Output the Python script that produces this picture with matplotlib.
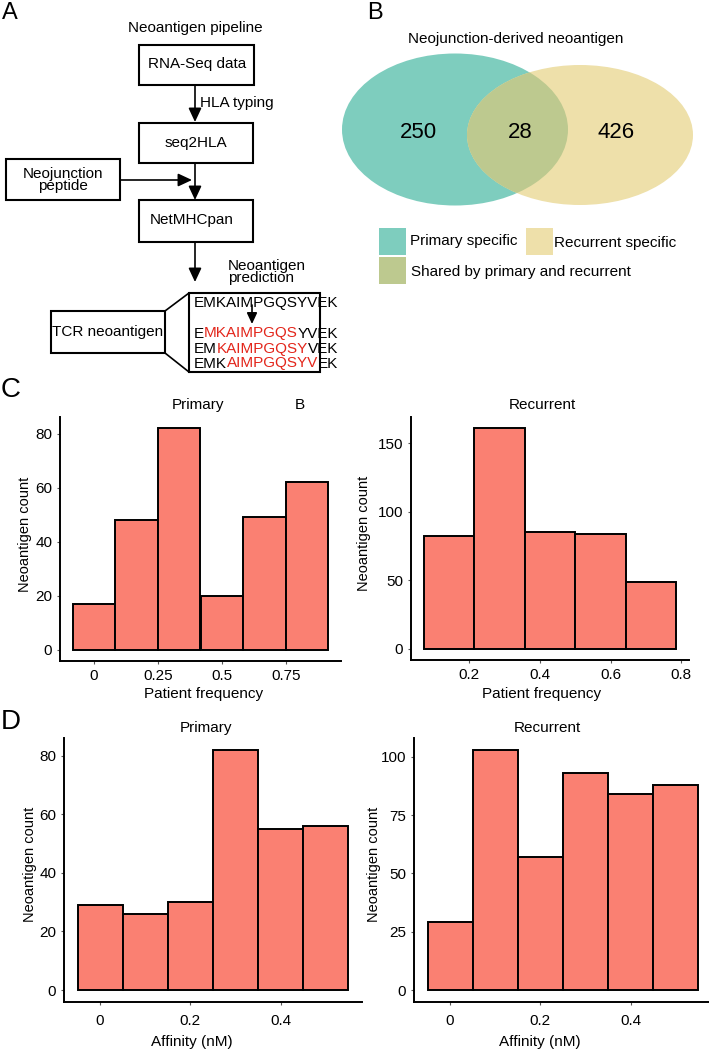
import matplotlib
matplotlib.use('Agg')
import matplotlib.pyplot as plt
from matplotlib.patches import Rectangle, Ellipse
import numpy as np

plt.rcParams['font.family'] = ['Liberation Sans', 'DejaVu Sans']

# panel C: patient frequency histograms (bin centres, counts)
c_primary_bins = [0, 1/6, 2/6, 3/6, 4/6, 5/6]
c_primary_counts = [17, 48, 82, 20, 49, 62]
c_recurrent_bins = [1/7, 2/7, 3/7, 4/7, 5/7]
c_recurrent_counts = [82, 161, 85, 84, 49]

# panel D: affinity histograms
d_bins = [0, 0.1, 0.2, 0.3, 0.4, 0.5]
d_primary_counts = [29, 26, 30, 82, 55, 56]
d_recurrent_counts = [29, 103, 57, 93, 84, 88]

# panel B: venn counts (primary only, shared, recurrent only)
venn_counts = [250, 28, 426]
venn_labels = ['Primary specific', 'Recurrent specific', 'Shared by primary and recurrent']

# panel A: peptide windows
seq_full = 'EMKAIMPGQSYVEK'
seq_rows = [('E', 'MKAIMPGQS', 'YVEK'),
            ('EM', 'KAIMPGQSY', 'VEK'),
            ('EMK', 'AIMPGQSYV', 'EK')]

BAR = '#FA8072'
TEAL = '#7ECDBE'
YELLOW = '#EEE0AA'
GREEN = '#BDC98F'
RED = '#E3261B'
W, H = 709, 1050

fig = plt.figure(figsize=(W / 100, H / 100), dpi=100)
ax0 = fig.add_axes([0, 0, 1, 1])
ax0.set_xlim(0, W)
ax0.set_ylim(H, 0)
ax0.axis('off')


def txt(x, y, s, size=11, **kw):
    kw.setdefault('ha', 'center')
    kw.setdefault('va', 'center')
    return ax0.text(x, y, s, fontsize=size, **kw)


def box(x0, y0, x1, y1):
    ax0.add_patch(Rectangle((x0, y0), x1 - x0, y1 - y0, fill=False, lw=1.5, ec='black'))


def arrow(x0, y0, x1, y1, scale=14):
    ax0.annotate('', xy=(x1, y1), xytext=(x0, y0),
                 arrowprops=dict(arrowstyle='-|>,head_length=0.6,head_width=0.28',
                                 color='black', lw=1.2, shrinkA=0, shrinkB=0,
                                 mutation_scale=scale))


def colored(x, y, parts, colors):
    t = ax0.text(x, y, parts[0], color=colors[0], fontsize=11, va='center', ha='left')
    for p, c in zip(parts[1:], colors[1:]):
        t = ax0.annotate(p, xy=(1, 0), xycoords=t, va='bottom', ha='left',
                         color=c, fontsize=11)


# ---- panel A: pipeline ----
txt(10, 13, 'A', size=17)
txt(195, 28, 'Neoantigen pipeline')
box(139, 45, 254, 85)
txt(197, 64, 'RNA-Seq data')
arrow(195, 85, 195, 122)
txt(200, 103, 'HLA typing', ha='left')
box(139, 123, 253, 163)
txt(195.5, 143, 'seq2HLA')
box(6, 159, 120, 200)
txt(63, 180, 'Neojunction\npeptide', linespacing=0.85)
arrow(195, 163, 195, 200)
arrow(120, 180, 192, 180)
box(139, 200, 253, 242)
txt(191.5, 220, 'NetMHCpan')
arrow(195, 242, 195, 282)
txt(228, 272, 'Neoantigen\nprediction', ha='left', linespacing=0.85)

box(51, 311, 165, 353)
txt(108, 332, 'TCR neoantigen')
box(189, 293, 320, 372)
ax0.plot([165, 189], [311, 293], color='black', lw=1.2)
ax0.plot([165, 189], [353, 372], color='black', lw=1.2)
txt(193.5, 303, seq_full, ha='left')
arrow(252, 305, 252, 324, scale=11)
for (a, b, c), y in zip(seq_rows, [333.5, 349, 363.5]):
    colored(193.5, y, [a, b, c], ['black', RED, 'black'])

# ---- panel B: venn ----
txt(375, 13, 'B', size=17)
txt(516, 39, 'Neojunction-derived neoantigen')
e1 = Ellipse((455, 129.5), 226, 152, color=TEAL, lw=0)
e2 = Ellipse((580, 135), 226, 140, color=YELLOW, lw=0)
ax0.add_patch(e1)
ax0.add_patch(e2)
lens = Ellipse((455, 129.5), 226, 152, color=GREEN, lw=0)
ax0.add_patch(lens)
lens.set_clip_path(e2)
for x, n in zip([418, 520, 616], venn_counts):
    txt(x, 133, str(n), size=16)

legend_pos = [(379, 228, 410, 241), (526, 228, 554, 243), (379, 257, 411, 272)]
for (sx, sy, tx, ty), col, lab in zip(legend_pos, [TEAL, YELLOW, GREEN], venn_labels):
    ax0.add_patch(Rectangle((sx, sy), 27, 27, color=col, lw=0))
    txt(tx, ty, lab, ha='left')


# ---- histograms ----
def hist_panel(rect, centers, counts, yticks, xticks, xlabels, ylab_x, xpad):
    l, t, r, b = rect
    ax = fig.add_axes([l / W, 1 - b / H, (r - l) / W, (b - t) / H])
    ax.patch.set_alpha(0)
    w = centers[1] - centers[0]
    ax.bar(centers, counts, width=w, color=BAR, edgecolor='black', linewidth=1.4)
    lo, hi = centers[0] - w / 2, centers[-1] + w / 2
    ax.set_xlim(lo - 0.05 * (hi - lo), hi + 0.05 * (hi - lo))
    m = max(counts)
    ax.set_ylim(-0.05 * m, 1.05 * m)
    ax.set_yticks(yticks)
    ax.set_xticks(xticks)
    ax.set_xticklabels(xlabels)
    for s in ['top', 'right']:
        ax.spines[s].set_visible(False)
    for s in ['left', 'bottom']:
        ax.spines[s].set_linewidth(1.4)
    ax.tick_params(length=2.5, width=0.8, color='#555555', labelsize=11, pad=3)
    ax.tick_params(axis='x', pad=xpad)
    ax.set_ylabel('Neoantigen count', fontsize=10.5)
    ax.yaxis.set_label_coords(ylab_x, 0.52)
    return ax


txt(11, 390, 'C', size=20)
hist_panel((60, 417, 341, 661), c_primary_bins, c_primary_counts,
           [0, 20, 40, 60, 80], [0, 0.25, 0.5, 0.75], ['0', '0.25', '0.5', '0.75'],
           -0.10, 3)
hist_panel((411, 417, 689, 660), c_recurrent_bins, c_recurrent_counts,
           [0, 50, 100, 150], [0.2, 0.4, 0.6, 0.8], ['0.2', '0.4', '0.6', '0.8'],
           -0.145, 3)
txt(198, 405, 'Primary')
txt(300, 405, 'B')
txt(542, 405, 'Recurrent')
txt(203.5, 694, 'Patient frequency')
txt(542, 694, 'Patient frequency')

txt(11, 722, 'D', size=20)
hist_panel((64, 738, 362, 1002), d_bins, d_primary_counts,
           [0, 20, 40, 60, 80], [0, 0.2, 0.4], ['0', '0.2', '0.4'], -0.092, 6)
hist_panel((414, 738, 712, 1002), d_bins, d_recurrent_counts,
           [0, 25, 50, 75, 100], [0, 0.2, 0.4], ['0', '0.2', '0.4'], -0.112, 6)
txt(206, 728, 'Primary')
txt(547, 728, 'Recurrent')
txt(192, 1042, 'Affinity (nM)')
txt(540, 1042, 'Affinity (nM)')

fig.savefig('out.png', dpi=100)
